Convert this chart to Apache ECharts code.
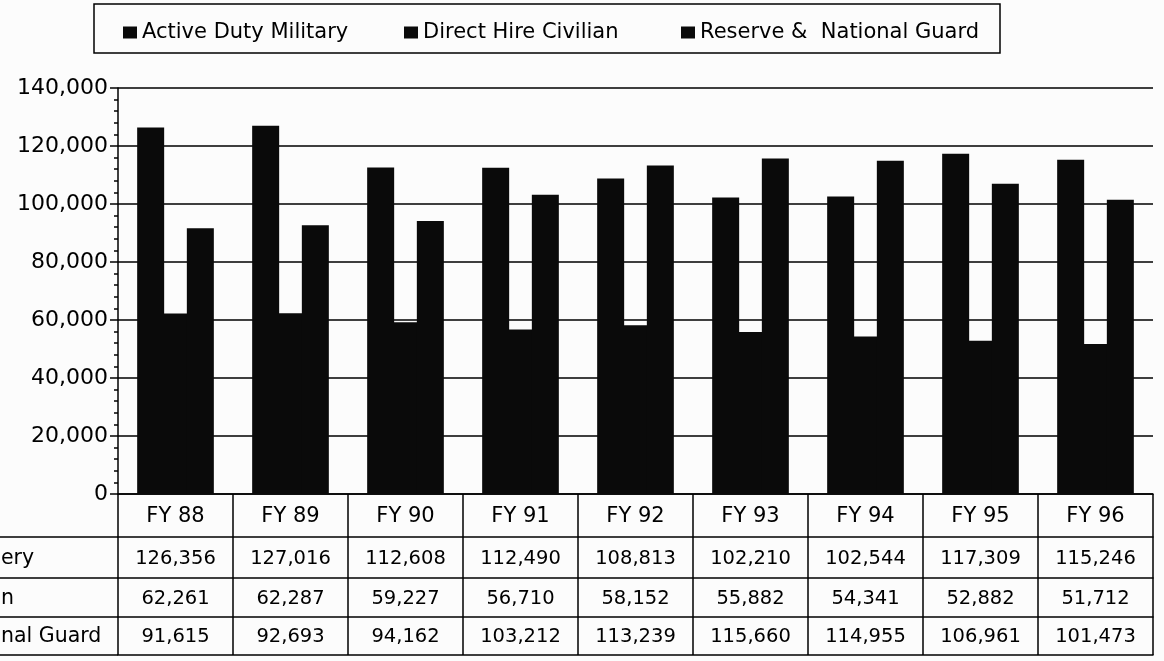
<!DOCTYPE html>
<html>
<head>
<meta charset="utf-8">
<script src="https://cdn.jsdelivr.net/npm/echarts@6/dist/echarts.min.js"></script>
<style>
  html, body { margin: 0; padding: 0; background: #fcfcfc; }
  #main { width: 1164px; height: 661px; }
</style>
</head>
<body>
<div id="main"></div>
<script>
// data
var years = ["FY 88", "FY 89", "FY 90", "FY 91", "FY 92", "FY 93", "FY 94", "FY 95", "FY 96"];
var activeDuty = [126356, 127016, 112608, 112490, 108813, 102210, 102544, 117309, 115246];
var directHire = [62261, 62287, 59227, 56710, 58152, 55882, 54341, 52882, 51712];
var reserveGuard = [91615, 92693, 94162, 103212, 113239, 115660, 114955, 106961, 101473];
var seriesNames = ["Active Duty Military", "Direct Hire Civilian", "Reserve & National Guard"];
var rowLabels = ["ery", "n", "nal Guard"];
var yTicks = [0, 20000, 40000, 60000, 80000, 100000, 120000, 140000];

var FONT = "DejaVu Sans";
var INK = "#000";

function fmt(v) {
  return Number(v).toLocaleString("en-US");
}

// table rows under the plot: axis offsets and row heights
var rowOffsets = [0, 43, 84, 123, 161];
var rowValues = [null, activeDuty, directHire, reserveGuard];

var xAxes = [];
for (var r = 0; r < 5; r++) {
  (function (r) {
    var h = r < 4 ? rowOffsets[r + 1] - rowOffsets[r] : 0;
    var fs = r === 0 ? 21 : 19.5;
    xAxes.push({
      type: "category",
      data: years,
      position: "bottom",
      offset: rowOffsets[r],
      gridIndex: 0,
      axisLine: { show: true, lineStyle: { color: INK, width: 1.5 } },
      axisTick: { show: r < 4, length: h, lineStyle: { color: INK, width: 1.5 } },
      axisLabel: {
        show: r < 4,
        margin: (h - fs) / 2 + 1,
        fontFamily: FONT,
        fontSize: fs,
        color: INK,
        formatter: function (v, i) {
          return r === 0 ? v : fmt(rowValues[r][i]);
        }
      },
      splitLine: { show: false }
    });
  })(r);
}

var chart = echarts.init(document.getElementById("main"));

var legends = [
  { left: 123, name: seriesNames[0] },
  { left: 404, name: seriesNames[1] },
  { left: 681, name: seriesNames[2] }
].map(function (l) {
  return {
    left: l.left,
    top: 22,
    padding: 0,
    data: [l.name],
    icon: "rect",
    itemWidth: 14,
    itemHeight: 12,
    itemGap: 6,
    formatter: function (n) { return n.replace("& ", "&  "); },
    textStyle: { fontFamily: FONT, fontSize: 21, color: INK }
  };
});

var gridLeft = 118, gridTop = 88, gridBottom = 167;

var graphics = [
  {
    type: "rect",
    shape: { x: 94, y: 4, width: 906, height: 49 },
    style: { fill: "none", stroke: INK, lineWidth: 1.5 }
  }
];
// left part of the table (row label column, cut off at the edge)
var axisY = 661 - gridBottom;
for (var k = 1; k < rowOffsets.length; k++) {
  graphics.push({
    type: "line",
    shape: { x1: 0, y1: axisY + rowOffsets[k], x2: gridLeft, y2: axisY + rowOffsets[k] },
    style: { stroke: INK, lineWidth: 1.5 }
  });
}
for (var j = 0; j < rowLabels.length; j++) {
  graphics.push({
    type: "text",
    style: {
      text: rowLabels[j],
      x: 1,
      y: axisY + (rowOffsets[j + 1] + rowOffsets[j + 2]) / 2 + 1,
      textVerticalAlign: "middle",
      font: "20.5px " + FONT,
      fill: INK
    }
  });
}

chart.setOption({
  backgroundColor: "#fcfcfc",
  animation: false,
  legend: legends,
  grid: { left: gridLeft, right: 11, top: gridTop, bottom: gridBottom, containLabel: false },
  xAxis: xAxes,
  yAxis: {
    type: "value",
    min: yTicks[0],
    max: yTicks[yTicks.length - 1],
    interval: 20000,
    axisLine: { show: true, lineStyle: { color: INK, width: 1.5 } },
    axisTick: { show: true, length: 8, lineStyle: { color: INK, width: 1.5 } },
    minorTick: { show: true, splitNumber: 5, length: 4, lineStyle: { color: INK, width: 1.5 } },
    splitLine: { show: true, lineStyle: { color: INK, width: 1.5 } },
    axisLabel: {
      margin: 10,
      fontFamily: FONT,
      fontSize: 22,
      color: INK,
      formatter: function (v) { return fmt(v); }
    }
  },
  graphic: graphics,
  series: [
    { name: seriesNames[0], type: "bar", data: activeDuty, barWidth: 27, barGap: "-8%", itemStyle: { color: "#0a0a0a" } },
    { name: seriesNames[1], type: "bar", data: directHire, barWidth: 27, barGap: "-8%", itemStyle: { color: "#0a0a0a" } },
    { name: seriesNames[2], type: "bar", data: reserveGuard, barWidth: 27, barGap: "-8%", itemStyle: { color: "#0a0a0a" } }
  ]
});
</script>
</body>
</html>
